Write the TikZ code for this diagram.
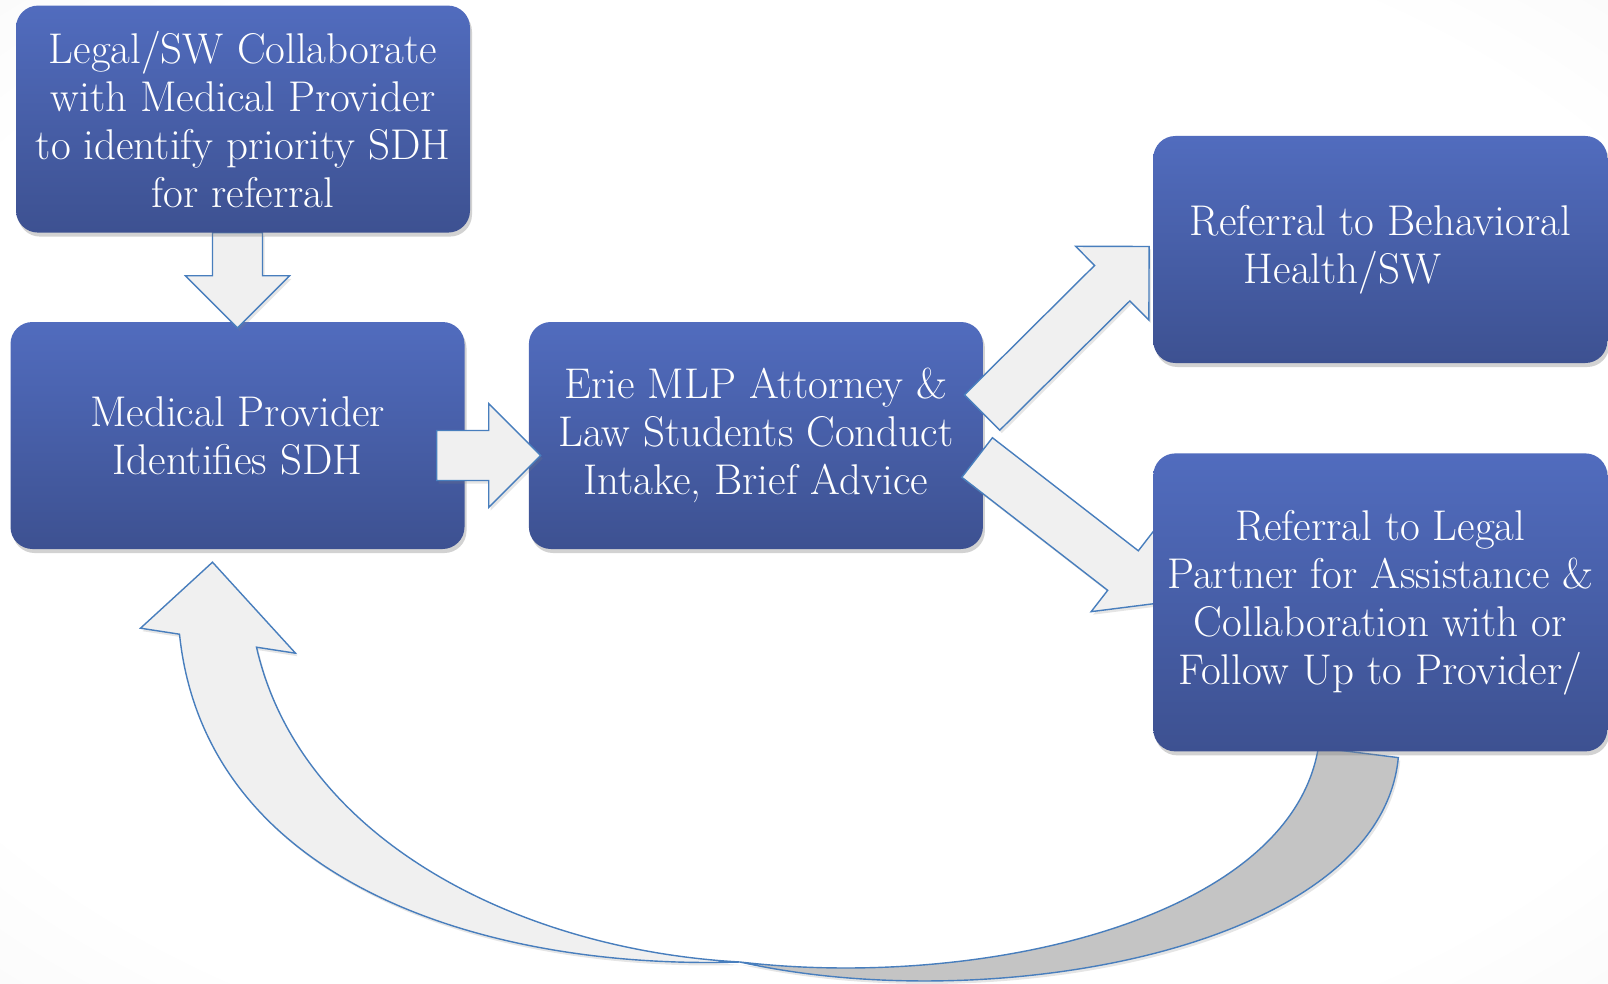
\documentclass[tikz,border=0pt]{standalone}
\usepackage{fontspec}
\usepackage{tikz}
\usetikzlibrary{positioning,calc,shadows}

\definecolor{boxtop}{RGB}{81,108,190}
\definecolor{boxbot}{RGB}{61,81,145}
\definecolor{arrowline}{RGB}{72,126,189}
\definecolor{arrowfill}{RGB}{240,240,240}
\definecolor{backfill}{RGB}{196,196,196}

\pgfdeclarelayer{bg}
\pgfdeclarelayer{lower}
\pgfdeclarelayer{mid}
\pgfsetlayers{bg,lower,mid,main}
\pgfdeclareradialshading{paper}{\pgfpoint{0bp}{0bp}}{color(0bp)=(white); color(30bp)=(white); color(72bp)=(black!12)}

% block arrow from tail #1 to tip #2
\newcommand{\blockarrow}[2]{%
  \draw[flowarrow] ($(#1)!25pt!90:(#2)$) -- ($(#2)!52pt!(#1)!25pt!90:(#2)$)
    -- ($(#2)!52pt!(#1)!52pt!90:(#2)$) -- (#2)
    -- ($(#2)!52pt!(#1)!52pt!-90:(#2)$) -- ($(#2)!52pt!(#1)!25pt!-90:(#2)$)
    -- ($(#1)!25pt!-90:(#2)$) -- cycle;}

\begin{document}
\begin{tikzpicture}[x=1pt, y=-1pt, node distance=64pt,
    every node/.style={font=\fontsize{43}{48}\selectfont},
    stepbox/.style={rectangle, rounded corners=22pt, top color=boxtop, bottom color=boxbot,
      text=white, align=center, inner sep=0pt, minimum width=454pt, minimum height=227pt,
      drop shadow={shadow xshift=2pt, shadow yshift=-4pt, opacity=0.35}},
    flowarrow/.style={draw=arrowline, fill=arrowfill, line width=1.4pt,
      drop shadow={shadow xshift=2pt, shadow yshift=-3pt, opacity=0.2}}]
  \useasboundingbox (0,0) rectangle (1608,984);
  \begin{pgfonlayer}{bg}
    \shade[shading=paper] (0,0) rectangle (1608,984);
  \end{pgfonlayer}

  \begin{pgfonlayer}{lower}
    \node[stepbox] (med) at (237.5,435.5) {Medical Provider\\Identifies SDH};
    \node[stepbox, right=of med] (mlp) {Erie MLP Attorney \&\\Law Students Conduct\\Intake, Brief Advice};
  \end{pgfonlayer}
  \node[stepbox, above=89pt of med, xshift=5.5pt] (legal) {Legal/SW Collaborate\\with Medical Provider\\to identify priority SDH\\for referral};
  \node[stepbox, right=170pt of mlp, yshift=186pt, align=left] (bh) {Referral to Behavioral\\\hspace*{54pt}Health/SW};
  \node[stepbox, below=90pt of bh, minimum height=298pt] (lp) {Referral to Legal\\Partner for Assistance \&\\Collaboration with or\\Follow Up to Provider/};

  % arrow ends
  \coordinate (d0) at (med.north |- legal.south);
  \coordinate (d1) at ($(med.north)+(0,6)$);
  \coordinate (r0) at ($(med.east)+(-28,20)$);
  \coordinate (r1) at ($(mlp.west)+(12,20)$);
  \coordinate (u0) at ($(mlp.east)+(-1,-23)$);
  \coordinate (u1) at ($(bh.west)+(-4,-3)$);
  \coordinate (w0) at ($(mlp.east)+(-6,22)$);
  \coordinate (w1) at ($(lp.west)+(11,0)$);
  \coordinate (cin) at ($(lp.south)+(-62,-4)$);
  \coordinate (cout) at ($(lp.south)+(18,6)$);
  \coordinate (ctip) at ($(med.south)+(-25,13)$);
  \coordinate (cx) at (740,962);

  \begin{pgfonlayer}{mid}
    \blockarrow{d0}{d1}
    \blockarrow{r0}{r1}
    \blockarrow{u0}{u1}
    \blockarrow{w0}{w1}
    % return arrow
    \draw[flowarrow, fill=backfill] (cin) -- (cout) .. controls (1380,950) and (990,1018) .. (cx)
      .. controls (980,990) and (1290,920) .. (cin) -- cycle;
    \draw[flowarrow] (ctip) -- ++(83,91) -- ++(-39,-6) .. controls +(44,193) and (520,950) .. (cx)
      .. controls (480,970) and (205,880) .. ($(ctip)+(-33,72)$) -- ++(-39,-6) -- cycle;
  \end{pgfonlayer}
\end{tikzpicture}
\end{document}
